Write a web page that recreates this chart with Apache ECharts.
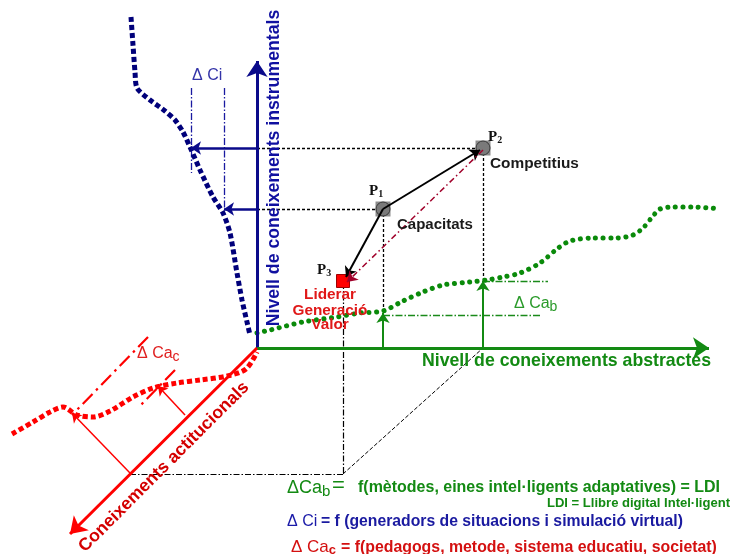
<!DOCTYPE html>
<html><head><meta charset="utf-8">
<script src="https://cdn.jsdelivr.net/npm/echarts/dist/echarts.min.js"></script>
<style>html,body{margin:0;padding:0;background:#fff}#c{width:734px;height:554px}</style>
</head><body><div id="c"></div>
<script>
// ---- data (diagram coordinates, x to the right, y downward) ----
const origin = [257, 348];
const instrAxisEnd = [257, 61];
const abstrAxisEnd = [709, 348];
const actitAxisEnd = [70, 534];

const blueCurve = [[131,17],[133,45],[135,72],[137,88],[150,100],[165,111],[175,120],[183,132],[190,147],[200,170],[213,197],[223,213],[230,233],[237,273],[242,300],[247,322],[250,335]];
const greenCurve = [[257,333],[270,330],[303,322],[337,317],[360,313],[383,311],[403,301],[423,292],[443,285],[470,282],[487,280],[503,277],[520,273],[540,263],[557,249],[570,241],[593,238],[617,238],[633,235],[643,228],[653,216],[660,209],[673,207],[693,207],[720,209]];
const redCurve = [[12,434],[33,422],[50,412],[63,407],[77,415],[93,417],[110,411],[133,397],[153,388],[177,383],[200,380],[227,376],[246,369],[257,352]];

const P1 = [383, 209];
const P2 = [483, 148];
const P3 = [343, 281];

const blackDotted = [[[257,148],[483,148]], [[257,209],[383,209]], [[383,209],[383,313]], [[483,148],[483,281]]];
const blackDashDot = [[[343,283],[343,474]], [[130,474],[343,474]]];
const blackDashed = [[[343,474],[483,348]]];
const blackArrows = [[P1,[480,150]], [P1,[346,277]]];
const darkRedArrow = [[[483,150],[347,282]]];
const blueArrows = [[[257,148],[191,148]], [[257,209],[224,209]]];
const blueDashDot = [[[191,88],[191,173]], [[224,88],[224,210]]];
const greenArrows = [[[383,348],[383,313]], [[483,348],[483,281]]];
const greenDashDot = [[[383,315],[542,315]], [[483,281],[548,281]]];
const redArrows = [[[130,473],[72,413]], [[185,415],[158,386]]];
const redDashDot = [[[148,337],[72,415]], [[175,370],[138,408]]];

// ---- helpers ----
const NAVY = '#0a0a8a', GREEN = '#138a13', RED = '#ff0000', DRED = '#d41010';
const SANS = 'Liberation Sans';
function seg(list){ return list.map(s => ({coords: s})); }
function lines(list, color, width, type, arrow, size, z){
  return {type:'lines', coordinateSystem:'cartesian2d', silent:true, z: z||2,
    data: seg(list), symbol: arrow ? ['none','arrow'] : ['none','none'], symbolSize: size||8,
    lineStyle:{color, width, type: type||'solid', opacity:1}, animation:false};
}
const mctx = document.createElement('canvas').getContext('2d');
function fit(text, weight, family, width){ mctx.font = weight+' 100px "'+family+'"'; return +(100*width/mctx.measureText(text).width).toFixed(2); }
function txt(text, x, y, opts){
  const o = Object.assign({size:12, weight:'normal', family:SANS, color:'#000', align:'left', va:'middle', rot:0}, opts||{});
  return {type:'text', x, y, rotation:o.rot, silent:true, z:50,
    style:{text, fill:o.color, font: o.weight+' '+o.size+'px "'+o.family+'"', textAlign:o.align, align:o.align, textVerticalAlign:o.va, verticalAlign:o.va, rich:o.rich}};
}
function pLabel(n, x, y){
  return txt('{p|P}{s|'+n+'}', x, y, {rich:{
    p:{fontFamily:'Liberation Serif', fontWeight:'bold', fontSize:15, fill:'#111'},
    s:{fontFamily:'Liberation Serif', fontWeight:'bold', fontSize:10, fill:'#111', verticalAlign:'bottom', padding:[7,0,0,0]}}});
}
function deltaSub(main, sub, x, y, size, subSize, color, subWeight){
  return txt('{a|'+main+'}{s|'+sub+'}', x, y, {rich:{
    a:{fontFamily:SANS, fontSize:size, fill:color},
    s:{fontFamily:SANS, fontSize:subSize, fontWeight:subWeight||'normal', fill:color, verticalAlign:'bottom', padding:[Math.round(size*0.4),0,0,0]}}});
}

const t1 = 'Nivell de coneixements abstractes';
const t2 = 'Nivell de coneixements instrumentals';
const t3 = 'Coneixements actitucionals';
const e1 = 'f(mètodes, eines intel·ligents adaptatives) = LDI';
const e2 = '= f (generadors de situacions i simulació virtual)';
const e3 = '= f(pedagogs, metode, sistema educatiu, societat)';
const e4 = 'LDI = Llibre digital Intel·ligent';

const chart = echarts.init(document.getElementById('c'), null, {renderer:'canvas'});
chart.setOption({
  animation:false,
  grid:{left:0,right:0,top:0,bottom:0,containLabel:false},
  xAxis:{type:'value',min:0,max:734,show:false},
  yAxis:{type:'value',min:0,max:554,inverse:true,show:false},
  series:[
    {type:'line', data: blueCurve, smooth:0.25, symbol:'none', silent:true, z:3,
      lineStyle:{color:'#00007a', width:5, type:[5,3], cap:'butt'}},
    {type:'line', data: greenCurve, smooth:0.3, symbol:'none', silent:true, z:3,
      lineStyle:{color:'#0a8a0a', width:5, type:[0.1,7.5], cap:'round'}},
    {type:'line', data: redCurve, smooth:0.3, symbol:'none', silent:true, z:3,
      lineStyle:{color:'#ff0000', width:5, type:[5,3], cap:'butt'}},
    lines([[origin, instrAxisEnd]], NAVY, 3, 'solid', true, 16, 4),
    lines([[origin, abstrAxisEnd]], GREEN, 3, 'solid', true, 16, 4),
    lines([[origin, actitAxisEnd]], RED, 3, 'solid', true, 16, 4),
    lines(blackDotted, '#000', 1.3, [3,2], false),
    lines(blackDashDot, '#000', 1.2, [6,2,1.5,2], false),
    lines(blackDashed, '#000', 1, [4,2], false),
    lines(blueDashDot, '#1a1aa0', 1.3, [7,2,1.5,2], false),
    lines(greenDashDot, '#1a8a1a', 1.3, [7,2,1.5,2], false),
    lines(redDashDot, '#ff0000', 2.2, [14,5,2.5,5], false),
    lines(blueArrows, NAVY, 2.5, 'solid', true, 10, 5),
    lines(greenArrows, GREEN, 2, 'solid', true, 10, 5),
    lines(redArrows, '#ff0000', 1.5, 'solid', true, 9, 5),
    {type:'scatter', data:[P1,P2], symbol:'rect', symbolSize:15, silent:true, z:6,
      itemStyle:{color:'#8c8c8c', opacity:1}},
    {type:'scatter', data:[P1,P2], symbol:'circle', symbolSize:14, silent:true, z:7,
      itemStyle:{color:'#7a7a7a', borderColor:'#3a3a3a', borderWidth:1, opacity:1}},
    {type:'scatter', data:[P3], symbol:'rect', symbolSize:13, silent:true, z:7,
      itemStyle:{color:'#ff0000', borderColor:'#a00000', borderWidth:1, opacity:1}},
    lines(blackArrows, '#000', 2, 'solid', true, 10, 8),
    lines(darkRedArrow, '#a0002a', 1.5, [6,3,1.5,3], true, 10, 8)
  ],
  graphic:[
    txt(t1, 422, 361, {size: fit(t1,'bold',SANS,289), weight:'bold', color:GREEN}),
    txt(t2, 274, 168, {size: fit(t2,'bold',SANS,317), weight:'bold', color:'#1010a0', align:'center', rot:Math.PI/2}),
    txt(t3, 164, 467, {size: fit(t3,'bold',SANS,233), weight:'bold', color:'#d40000', align:'center', rot:Math.PI/4}),
    txt('Δ Ci', 192, 76, {size:16, color:'#3434a8'}),
    pLabel(1, 369, 191),
    pLabel(2, 488, 137),
    pLabel(3, 317, 270),
    txt('Capacitats', 397, 225, {size: fit('Capacitats','bold',SANS,76), weight:'bold', color:'#1a1a1a'}),
    txt('Competitius', 490, 164, {size: fit('Competitius','bold',SANS,89), weight:'bold', color:'#1a1a1a'}),
    txt('Liderar', 330, 295, {size: fit('Liderar','bold',SANS,52), weight:'bold', color:'#e01818', align:'center'}),
    txt('Generació', 330, 311, {size: fit('Liderar','bold',SANS,52), weight:'bold', color:'#e01818', align:'center'}),
    txt('Valor', 330, 325, {size: fit('Liderar','bold',SANS,52), weight:'bold', color:'#e01818', align:'center'}),
    deltaSub('Δ Ca', 'b', 514, 304, 16, 14, '#2a9a2a'),
    deltaSub('Δ Ca', 'c', 137, 354, 16, 14, '#e02020'),
    deltaSub('ΔCa', 'b', 287, 488, 18, 15, GREEN),
    txt('=', 332, 486, {size:22, color:GREEN}),
    txt(e1, 358, 488, {size: fit(e1,'bold',SANS,362), weight:'bold', color:GREEN}),
    txt(e4, 730, 503, {size: fit(e4,'bold',SANS,183), weight:'bold', color:GREEN, align:'right'}),
    txt('Δ Ci', 287, 522, {size:16, color:'#1a1aa8'}),
    txt(e2, 321, 522, {size: fit(e2,'bold',SANS,362), weight:'bold', color:'#1a1aa0'}),
    deltaSub('Δ Ca', 'c', 291, 547, 17, 13, DRED, 'bold'),
    txt(e3, 341, 548, {size: fit(e3,'bold',SANS,376), weight:'bold', color:DRED})
  ]
});
</script></body></html>
